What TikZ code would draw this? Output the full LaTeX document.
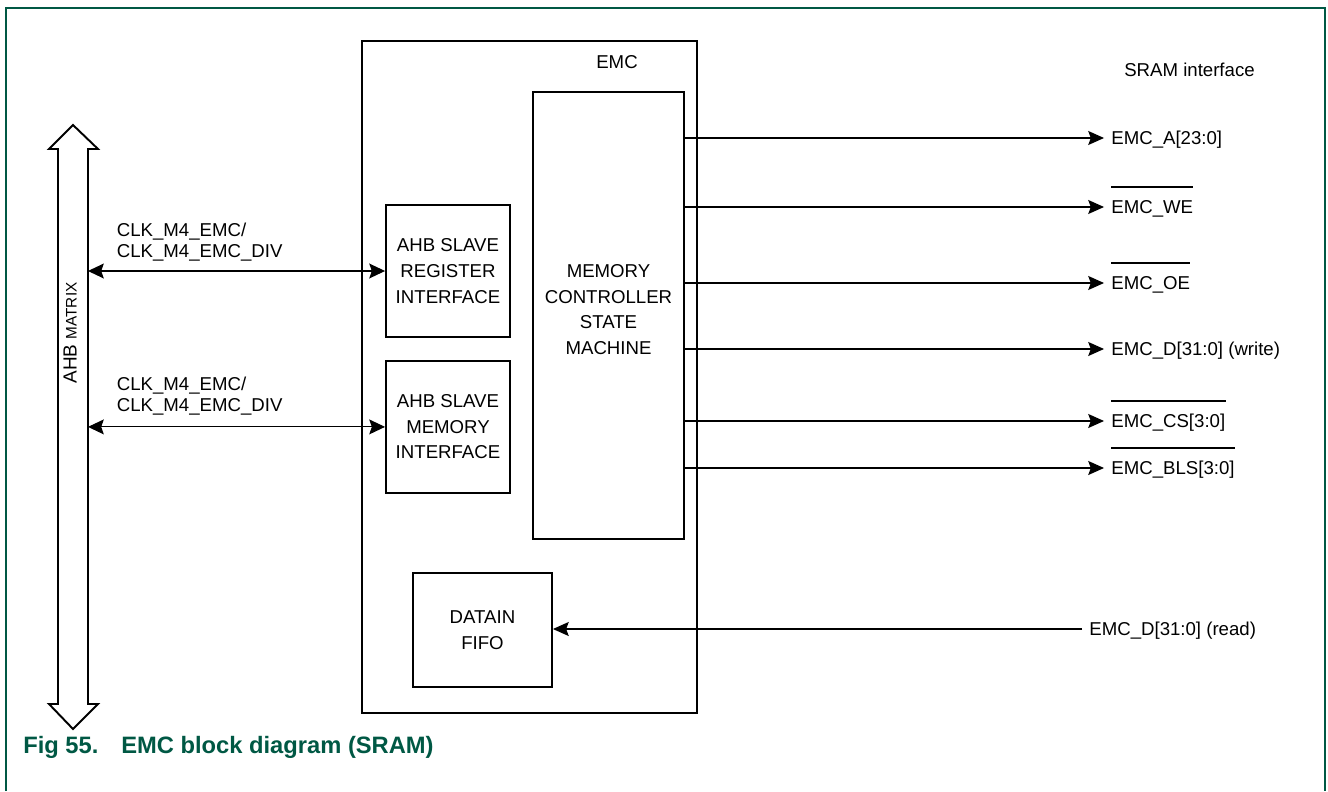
\documentclass[tikz,border=0pt]{standalone}
\usepackage{fontspec}
\setmainfont{Liberation Sans}
\usetikzlibrary{positioning,arrows.meta}
\definecolor{nxpgreen}{RGB}{0,88,68}
\tikzset{
  block/.style={rectangle,draw=black,line width=1.1pt,inner sep=0pt,align=center,font=\fontsize{10.6}{14.6}\selectfont},
  blocktext/.style={align=center,inner sep=0pt,font=\fontsize{10.6}{14.6}\selectfont},
  clktext/.style={anchor=west,align=left,inner sep=2pt,font=\fontsize{10.6}{12}\selectfont},
  sigtext/.style={anchor=west,inner xsep=4pt,inner ysep=2pt,text height=7.6pt,text depth=0pt,font=\fontsize{10.6}{12}\selectfont},
  sig/.style={-{Stealth[length=9pt,width=8pt,inset=1.5pt]},line width=0.6pt},
  bidir/.style={{Stealth[length=9pt,width=8.5pt,inset=1.5pt]}-{Stealth[length=9pt,width=8.5pt,inset=1.5pt]},line width=0.6pt},
  ovbar/.style={line width=1.1pt},
  bus/.style={draw=black,line width=1.1pt,fill=white,line join=miter}
}
\begin{document}
\begin{tikzpicture}[x=0.02cm,y=-0.02cm]
  \useasboundingbox (0,0) rectangle (1328,791);
  % frame
  \draw[nxpgreen,line width=0.6pt] (6,791) -- (6,8) -- (1325,8) -- (1325,791);

  % AHB matrix bus
  \draw[bus] (73,125) -- (98,149) -- (88,149) -- (88,704) -- (98,704) -- (73,729)
    -- (49,704) -- (58,704) -- (58,149) -- (49,149) -- cycle;
  \node[rotate=90,inner sep=0pt,font=\fontsize{10.8}{12}\selectfont] (ahb) at (70,333) {AHB {\fontsize{8.7}{10}\selectfont MATRIX}};
  \coordinate (busr) at (88,0);

  % EMC blocks
  \node[block,minimum width=6.7cm,minimum height=13.44cm] (emc) at (529.5,377) {};
  \node[blocktext] (emclbl) at (617,62) {EMC};
  \node[block,minimum width=3.02cm,minimum height=8.94cm] (mem) at (608.5,315.5) {};
  \node[blocktext] (memlbl) at (608.5,309.5) {MEMORY\\CONTROLLER\\STATE\\MACHINE};
  \node[block,minimum width=2.48cm,minimum height=2.64cm] (reg) at (448,271) {AHB SLAVE\\REGISTER\\INTERFACE};
  \node[block,minimum width=2.48cm,minimum height=2.64cm,below=0.44cm of reg] (meminf) {AHB SLAVE\\MEMORY\\INTERFACE};
  \node[block,minimum width=2.78cm,minimum height=2.28cm] (fifo) at (482.5,630) {DATAIN\\FIFO};

  % AHB side
  \node[clktext] (clkreg) at (113,242.5) {CLK\_M4\_EMC/\\CLK\_M4\_EMC\_DIV};
  \node[clktext] (clkmem) at (113,396) {CLK\_M4\_EMC/\\CLK\_M4\_EMC\_DIV};
  \draw[bidir] (busr |- reg.west) -- (reg.west);
  \draw[bidir] (busr |- meminf.west) -- (meminf.west);

  % SRAM side
  \node[blocktext] (sram) at (1189.5,70) {SRAM interface};
  \node[sigtext] (sa) at (1104,138) {EMC\_A[23:0]};
  \node[sigtext] (swe) at (1104,207) {EMC\_WE};
  \node[sigtext] (soe) at (1104,283) {EMC\_OE};
  \node[sigtext] (sdw) at (1104,349) {EMC\_D[31:0] (write)};
  \node[sigtext] (scs) at (1104,421) {EMC\_CS[3:0]};
  \node[sigtext] (sbls) at (1104,468) {EMC\_BLS[3:0]};
  \node[sigtext] (srd) at (1082,629) {EMC\_D[31:0] (read)};
  \foreach \s in {sa,swe,soe,sdw,scs,sbls}
    \draw[sig] (mem.east |- \s.west) -- (\s.west);
  \foreach \s in {swe,soe,scs,sbls}
    \draw[ovbar] ([xshift=4pt,yshift=5.4pt]\s.north west) -- ([xshift=-4pt,yshift=5.4pt]\s.north east);
  \draw[sig] (srd.west) -- (fifo.east |- srd.west);

  % caption
  \node[anchor=west,inner sep=0pt,text=nxpgreen,font=\bfseries\fontsize{13.5}{16}\selectfont] (caption) at (23,747) {Fig 55.\hspace{13pt}EMC block diagram (SRAM)};
\end{tikzpicture}
\end{document}
